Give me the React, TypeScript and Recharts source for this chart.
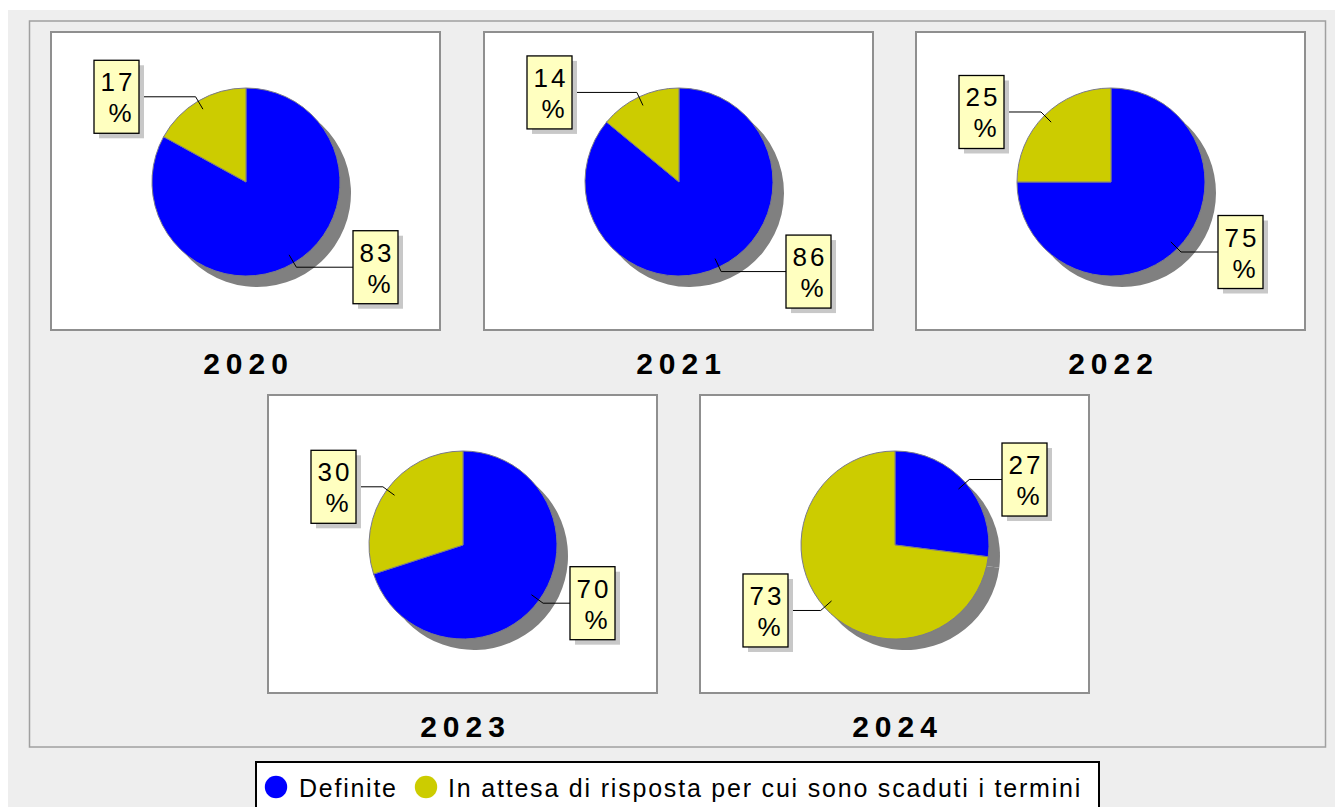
import { Cell, Pie, PieChart } from "recharts"

const years = ["2020", "2021", "2022", "2023", "2024"]
const definite = [83, 86, 75, 70, 27]
const pending = [17, 14, 25, 30, 73]
const seriesNames = ["Definite", "In attesa di risposta per cui sono scaduti i termini"]
const seriesColors = ["#0000ff", "#cccc00"]

// top-left corner of each white panel
const panelPos = [
  [50, 31],
  [483, 31],
  [915, 31],
  [267, 394],
  [699, 394],
]
const PW = 391
const PH = 300
const BORDER = 2
const CX = 194
const CY = 149
const R = 94
const FONT = "'Liberation Sans', Arial, sans-serif"

const RAD = Math.PI / 180

function renderLabel(props: any) {
  const { cx, cy, midAngle, outerRadius, value } = props
  const cos = Math.cos(-midAngle * RAD)
  const sin = Math.sin(-midAngle * RAD)
  const x1 = cx + outerRadius * 0.9 * cos
  const y1 = cy + outerRadius * 0.9 * sin
  const x2 = cx + (outerRadius + 5) * cos
  const y2 = cy + (outerRadius + 5) * sin
  const right = cos >= 0
  const x3 = right ? cx + 107 : cx - 107
  const bx = right ? x3 : x3 - 45
  const by = y2 - 36.5
  return (
    <g>
      <polyline points={`${x1},${y1} ${x2},${y2} ${x3},${y2}`} fill="none" stroke="#000" strokeWidth={1} />
      <rect x={bx + 5} y={by + 5} width={45} height={73} fill="#c8c8c8" />
      <rect x={bx} y={by} width={45} height={73} fill="#ffffc0" stroke="#000" strokeWidth={1.3} />
      <text x={bx + 24} y={by + 31} textAnchor="middle" fontSize={26} letterSpacing={3} fontFamily={FONT} fill="#000">
        {value}
      </text>
      <text x={bx + 26} y={by + 62} textAnchor="middle" fontSize={26} fontFamily={FONT} fill="#000">
        %
      </text>
    </g>
  )
}

function YearPie({ index }: { index: number }) {
  const data = [
    { name: seriesNames[0], value: definite[index] },
    { name: seriesNames[1], value: pending[index] },
  ]
  const [left, top] = panelPos[index]
  return (
    <div
      style={{
        position: "absolute",
        left,
        top,
        width: PW,
        height: PH,
        boxSizing: "border-box",
        border: `${BORDER}px solid #8f8f8f`,
        background: "#fff",
      }}
    >
      <PieChart width={PW - 2 * BORDER} height={PH - 2 * BORDER} margin={{ top: 0, right: 0, bottom: 0, left: 0 }}>
        {/* drop shadow */}
        <Pie
          data={data}
          dataKey="value"
          cx={CX + 11}
          cy={CY + 11}
          outerRadius={R}
          startAngle={90}
          endAngle={-270}
          stroke="none"
          fill="#808080"
          isAnimationActive={false}
        />
        <Pie
          data={data}
          dataKey="value"
          cx={CX}
          cy={CY}
          outerRadius={R}
          startAngle={90}
          endAngle={-270}
          stroke="#7a7a8a"
          strokeWidth={1}
          label={renderLabel}
          labelLine={false}
          isAnimationActive={false}
        >
          {data.map((d, i) => (
            <Cell key={d.name} fill={seriesColors[i]} />
          ))}
        </Pie>
      </PieChart>
    </div>
  )
}

export default function App() {
  return (
    <div style={{ position: "absolute", left: 0, top: 0, width: 1335, height: 807, overflow: "hidden" }}>
      <svg width={1335} height={807} style={{ position: "absolute", left: 0, top: 0 }}>
        <rect x={8} y={10} width={1327} height={797} fill="#eeeeee" />
        <rect x={29.5} y={21} width={1296} height={726} fill="none" stroke="#a0a0a0" strokeWidth={1.5} />
        {years.map((y, i) => (
          <text
            key={y}
            x={panelPos[i][0] + 195.5 + 3}
            y={i < 3 ? 374 : 737}
            textAnchor="middle"
            fontSize={30}
            fontWeight="bold"
            letterSpacing={6}
            fontFamily={FONT}
            fill="#000"
          >
            {y}
          </text>
        ))}
        <rect x={256} y={762} width={843} height={60} fill="#fff" stroke="#000" strokeWidth={2} />
        <circle cx={276} cy={787} r={11.2} fill={seriesColors[0]} />
        <text x={299} y={797} fontSize={25} letterSpacing={1.75} fontFamily={FONT} fill="#000">
          {seriesNames[0]}
        </text>
        <circle cx={426} cy={787} r={11.2} fill={seriesColors[1]} />
        <text x={448} y={797} fontSize={25} letterSpacing={1.8} fontFamily={FONT} fill="#000">
          {seriesNames[1]}
        </text>
      </svg>
      {years.map((y, i) => (
        <YearPie key={y} index={i} />
      ))}
    </div>
  )
}
